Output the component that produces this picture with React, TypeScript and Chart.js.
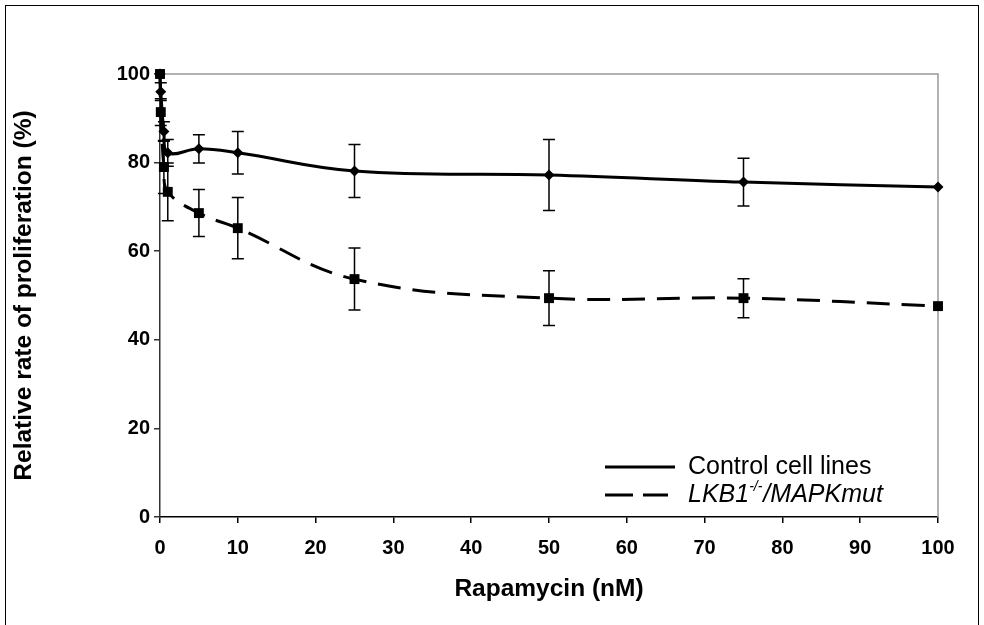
import { useEffect, useRef } from 'react';
import { Chart, registerables } from 'chart.js';

Chart.register(...registerables);

// ---- data ----
const doses = [0, 0.1, 0.5, 1, 5, 10, 25, 50, 75, 100];
const controlValues = [100, 96, 87, 82.2, 83.1, 82.2, 78.1, 77.2, 75.6, 74.5];
const controlErrors = [0, 2, 2.2, 3, 3.2, 4.8, 6, 8, 5.4, 0];
const lkbValues = [100, 91.4, 79, 73.4, 68.6, 65.2, 53.7, 49.4, 49.4, 47.6];
const lkbErrors = [0, 3, 6, 6.5, 5.3, 6.9, 7, 6.2, 4.4, 0];
const xTickValues = [0, 10, 20, 30, 40, 50, 60, 70, 80, 90, 100];
const yTickValues = [0, 20, 40, 60, 80, 100];
const controlLabel = 'Control cell lines';
const lkbLabelParts = ['LKB1', '-/-', '/MAPKmut'];
const xTitle = 'Rapamycin (nM)';
const yTitle = 'Relative rate of proliferation (%)';

const FONT = "'Liberation Sans', Arial, Helvetica, sans-serif";

const errorsByDataset = [controlErrors, lkbErrors];
const valuesByDataset = [controlValues, lkbValues];

const framePlugin = {
  id: 'frame',
  beforeDatasetsDraw(chart: any) {
    const { ctx, chartArea } = chart;
    ctx.save();
    ctx.strokeStyle = '#9a9a9a';
    ctx.lineWidth = 1.5;
    ctx.beginPath();
    ctx.moveTo(chartArea.left, chartArea.top);
    ctx.lineTo(chartArea.right, chartArea.top);
    ctx.lineTo(chartArea.right, chartArea.bottom);
    ctx.stroke();
    ctx.restore();
  },
};

const errorBarPlugin = {
  id: 'errorBars',
  afterDatasetsDraw(chart: any) {
    const { ctx } = chart;
    const xs = chart.scales.x;
    const ys = chart.scales.y;
    ctx.save();
    ctx.strokeStyle = '#000';
    ctx.lineWidth = 1.5;
    errorsByDataset.forEach((errs, di) => {
      const vals = valuesByDataset[di];
      errs.forEach((e, i) => {
        if (!e) return;
        const x = xs.getPixelForValue(doses[i]);
        const yt = ys.getPixelForValue(vals[i] + e);
        const yb = ys.getPixelForValue(vals[i] - e);
        ctx.beginPath();
        ctx.moveTo(x, yt);
        ctx.lineTo(x, yb);
        ctx.moveTo(x - 6, yt);
        ctx.lineTo(x + 6, yt);
        ctx.moveTo(x - 6, yb);
        ctx.lineTo(x + 6, yb);
        ctx.stroke();
      });
    });
    ctx.restore();
  },
};

const legendPlugin = {
  id: 'customLegend',
  afterDraw(chart: any) {
    const { ctx } = chart;
    ctx.save();
    ctx.strokeStyle = '#000';
    ctx.fillStyle = '#000';
    ctx.lineWidth = 3;
    const x0 = 605;
    const x1 = 675;
    const tx = 688;
    const y1 = 467;
    const y2 = 495;
    ctx.beginPath();
    ctx.moveTo(x0, y1);
    ctx.lineTo(x1, y1);
    ctx.stroke();
    ctx.setLineDash([28, 10]);
    ctx.beginPath();
    ctx.moveTo(x0, y2);
    ctx.lineTo(x1 - 7, y2);
    ctx.stroke();
    ctx.setLineDash([]);
    ctx.textBaseline = 'middle';
    ctx.textAlign = 'left';
    ctx.font = `25px ${FONT}`;
    ctx.fillText(controlLabel, tx, y1);
    ctx.font = `italic 25px ${FONT}`;
    let cx = tx;
    ctx.fillText(lkbLabelParts[0], cx, y2);
    cx += ctx.measureText(lkbLabelParts[0]).width;
    ctx.font = `italic 14px ${FONT}`;
    ctx.fillText(lkbLabelParts[1], cx, y2 - 8);
    cx += ctx.measureText(lkbLabelParts[1]).width + 1;
    ctx.font = `italic 25px ${FONT}`;
    ctx.fillText(lkbLabelParts[2], cx, y2);
    ctx.restore();
  },
};

export default function App() {
  const canvasRef = useRef<HTMLCanvasElement | null>(null);

  useEffect(() => {
    document.body.style.margin = '0';
    const canvas = canvasRef.current;
    if (!canvas) return;
    const tickFont = { family: FONT, size: 20, weight: 'bold' as const };
    const titleFont = { family: FONT, size: 24.5, weight: 'bold' as const };
    const chart = new Chart(canvas, {
      type: 'line',
      data: {
        datasets: [
          {
            label: controlLabel,
            data: doses.map((d, i) => ({ x: d, y: controlValues[i] })),
            borderColor: '#000',
            backgroundColor: '#000',
            borderWidth: 3,
            tension: 0.4,
            pointStyle: 'rectRot',
            pointRadius: 5.5,
            pointBorderWidth: 0,
            pointBackgroundColor: '#000',
            clip: false as any,
          },
          {
            label: lkbLabelParts.join(''),
            data: doses.map((d, i) => ({ x: d, y: lkbValues[i] })),
            borderColor: '#000',
            backgroundColor: '#000',
            borderWidth: 3,
            borderDash: [23, 12],
            tension: 0.4,
            pointStyle: 'rect',
            pointRadius: 7,
            pointBorderWidth: 0,
            pointBackgroundColor: '#000',
            clip: false as any,
          },
        ],
      },
      options: {
        animation: false,
        responsive: false,
        layout: { padding: { left: 10, right: 46, top: 74, bottom: 15 } },
        plugins: { legend: { display: false }, tooltip: { enabled: false } },
        scales: {
          x: {
            type: 'linear',
            min: 0,
            max: 100,
            afterBuildTicks: (s: any) => {
              s.ticks = xTickValues.map((v) => ({ value: v }));
            },
            afterFit: (s: any) => {
              s.height = 93;
            },
            grid: { display: true, drawOnChartArea: false, drawTicks: true, tickLength: 6, color: '#000', lineWidth: 1.5 },
            border: { display: true, color: '#000', width: 1.5 },
            ticks: { font: tickFont, color: '#000', padding: 13, maxRotation: 0, autoSkip: false },
            title: { display: true, text: xTitle, font: titleFont, color: '#000', padding: { top: 0, bottom: 6 } },
          },
          y: {
            type: 'linear',
            min: 0,
            max: 100,
            afterBuildTicks: (s: any) => {
              s.ticks = yTickValues.map((v) => ({ value: v }));
            },
            afterFit: (s: any) => {
              s.width = 150;
            },
            grid: { display: true, drawOnChartArea: false, drawTicks: true, tickLength: 6, color: '#333', lineWidth: 1.5 },
            border: { display: true, color: '#333', width: 1.5 },
            ticks: { font: tickFont, color: '#000', padding: 4, autoSkip: false },
            title: { display: true, text: yTitle, font: titleFont, color: '#000', padding: { top: 0, bottom: 0 } },
          },
        },
      },
      plugins: [framePlugin, errorBarPlugin, legendPlugin],
    });
    return () => chart.destroy();
  }, []);

  return (
    <div style={{ position: 'relative', width: 984, height: 625, overflow: 'hidden', background: '#fff' }}>
      <div
        style={{
          position: 'absolute',
          left: 5,
          top: 5,
          width: 974,
          height: 620,
          boxSizing: 'border-box',
          border: '1px solid #000',
          borderBottom: 'none',
        }}
      />
      <canvas
        ref={canvasRef}
        width={984}
        height={625}
        style={{ position: 'absolute', left: 0, top: 0, display: 'block' }}
      />
    </div>
  );
}
